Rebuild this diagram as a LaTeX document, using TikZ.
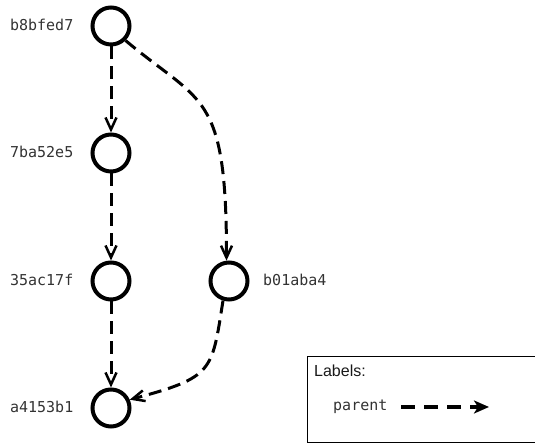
\documentclass[tikz,border=0pt]{standalone}
\usepackage{fontspec}
\setmainfont{Liberation Sans}
\setmonofont{DejaVu Sans Mono}
\usetikzlibrary{arrows.meta}
\begin{document}
\begin{tikzpicture}[x=1pt,y=1pt,
  commit/.style={circle, draw, line width=4pt, minimum size=37pt, inner sep=0pt},
  hashlbl/.style={font=\fontsize{15}{18}\selectfont\ttfamily, text=black!80, inner sep=0pt},
  parentedge/.style={line width=3pt, dash pattern=on 13pt off 7pt,
    -{Straight Barb[length=12pt,width=11pt,line width=2.5pt]}},
  legendarrow/.style={line width=3.2pt, dash pattern=on 14pt off 9pt,
    -{Stealth[length=15pt,width=13pt,inset=4pt]}},
  legendbox/.style={draw, line width=1pt, minimum width=229pt, minimum height=86pt, inner sep=0pt},
]
\useasboundingbox (0,0) rectangle (535,443);

% commits
\node[commit] (b8) at (111,417) {};
\node[commit] (c7b) at (111,290) {};
\node[commit] (c35) at (111,162) {};
\node[commit] (a41) at (111,35) {};
\node[commit] (b01) at (229,162) {};

% hash labels
\node[hashlbl, anchor=base east] (lb8) at (73.5,412) {b8bfed7};
\node[hashlbl, anchor=base east] (l7b) at (73.5,285) {7ba52e5};
\node[hashlbl, anchor=base east] (l35) at (73.5,157) {35ac17f};
\node[hashlbl, anchor=base east] (la41) at (73.5,30) {a4153b1};
\node[hashlbl, anchor=base west] (lb01) at (263,157) {b01aba4};

% parent edges
\draw[parentedge] (b8) -- (c7b);
\draw[parentedge] (c7b) -- (c35);
\draw[parentedge] (c35) -- (a41);
\draw[parentedge] (b8.-45) .. controls +(-40:100) and +(0,170) .. (b01.97);
\draw[parentedge] (b01.-107) .. controls +(-99:72) and +(15:87) .. (a41.24);

% legend
\node[legendbox, anchor=north west] (legend) at (306.5,87) {};
\node[font=\fontsize{16}{19}\selectfont, text=black!90, anchor=base west, inner sep=0pt] (legtitle) at (314,66.3) {Labels:};
\node[hashlbl, anchor=base west] (legparent) at (333,32) {parent};
\coordinate (la) at (401,36);
\coordinate (lb) at (489,36);
\draw[legendarrow] (la) -- (lb);
\end{tikzpicture}
\end{document}
